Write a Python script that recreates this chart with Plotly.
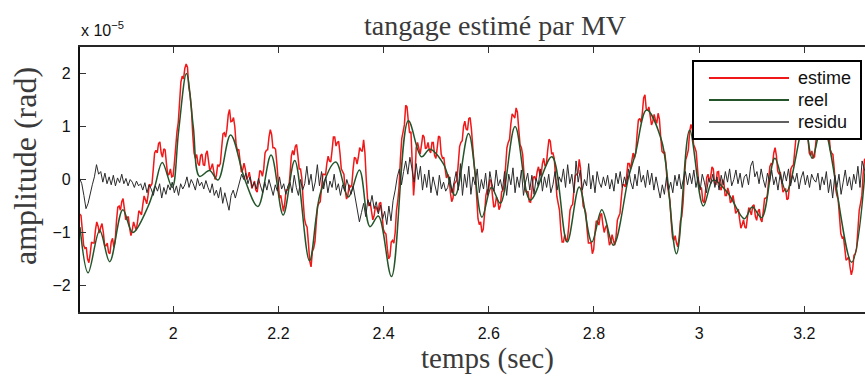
import numpy as np
import plotly.graph_objects as go

# ---------------- data (amplitude in units of 1e-5 rad) ----------------
# estime : sampled every 0.0025 s from t = 1.822 s (values in hundredths)
estime_start = 1.822
estime_step = 0.0025
estime_vals = [
    -65, -68, -95, -124, -130, -128, -150, -157, -140, -118, -120, -120, -95, -80, -88, -101, -90, -83, -100, -124,
    -125, -120, -138, -140, -118, -111, -128, -115, -78, -52, -50, -58, -42, -36, -55, -76, -72, -70, -92, -106,
    -95, -80, -88, -96, -80, -59, -62, -67, -48, -31, -38, -46, -30, -9, -12, -8, 20, 50, 55, 50,
    68, 71, 50, 42, 58, 56, 30, 8, 10, 20, 5, 6, 30, 72, 90, 108, 150, 184, 195, 190,
    210, 218, 212, 174, 160, 134, 85, 50, 40, 47, 30, 26, 45, 48, 28, 26, 48, 54, 35, 16,
    22, 30, 15, 0, 8, 28, 25, 30, 60, 86, 88, 80, 95, 122, 132, 109, 110, 117, 100, 66,
    55, 57, 35, 14, 18, 31, 20, 0, 5, 14, 0, -17, -10, -3, -20, -24, -5, 17, 15, 6,
    20, 50, 55, 56, 80, 94, 85, 60, 60, 57, 30, -14, -35, -30, -50, -60, -45, -20, -20, -17,
    10, 44, 55, 46, 62, 66, 45, 20, 20, 2, -40, -74, -85, -90, -120, -154, -165, -136, -130, -117,
    -80, -50, -45, -42, -15, 10, 10, 8, 30, 44, 35, 33, 55, 80, 80, 63, 70, 72, 50, 20,
    15, 10, -20, -37, -30, -10, -15, -10, 20, 42, 40, 29, 42, 60, 55, 53, 75, 50, 0, -37,
    -50, -43, -60, -76, -68, -50, -55, -62, -45, -43, -65, -94, -100, -103, -130, -150, -145, -118, -115, -120,
    -100, -58, -40, -12, 40, 77, 90, 103, 140, 137, 110, 88, 90, 42, -30, 3, 60, 70, 55, 48,
    65, 84, 80, 58, 60, 70, 55, 50, 70, 70, 45, 40, 60, 82, 80, 48, 40, 42, 20, 3,
    10, 4, -25, -42, -35, -8, -5, 0, 30, 62, 70, 73, 100, 110, 95, 93, 115, 117, 95, 50,
    30, 7, -40, -74, -85, -80, -100, -94, -65, -30, -20, -22, 0, -3, -30, -52, -50, -33, -40, -57,
    -50, -23, -20, -10, 25, 60, 70, 76, 105, 124, 120, 116, 135, 127, 95, 66, 60, 47, 10, -20,
    -25, -22, -42, -43, -20, 4, 5, -2, 15, 24, 10, 8, 30, 40, 25, 28, 55, 76, 72, 49,
    50, 40, 5, -32, -45, -58, -95, -118, -118, -104, -115, -114, -90, -58, -50, -47, -20, 7, 10, 12,
    38, 21, -20, -50, -55, -63, -95, -120, -120, -118, -140, -132, -100, -78, -80, -86, -68, -64, -85, -100,
    -90, -86, -105, -124, -118, -104, -115, -124, -108, -77, -70, -64, -35, -10, -10, -14, 5, 30, 30, 20,
    35, 50, 40, 50, 85, 112, 115, 108, 125, 154, 160, 133, 130, 137, 120, 103, 110, 123, 112, 106,
    125, 114, 80, 53, 50, 52, 30, -10, -25, -40, -80, -110, -115, -106, -120, -127, -110, -78, -70, -44,
    5, 37, 45, 56, 90, 104, 95, 66, 60, 52, 20, -10, -15, -16, -40, -44, -25, 4, 10, -4,
    5, 24, 20, -7, -10, 14, 15, -14, -20, 0, -5, -30, -30, -16, -25, -44, -40, -30, -45, -64,
    -60, -56, -75, -92, -85, -76, -90, -92, -70, -53, -60, -67, -50, -48, -70, -77, -60, -56, -75, -80,
    -60, -36, -35, -32, -5, 24, 30, 28, 50, 60, 45, 16, 10, 14, -5, -24, -20, -17, -38, -36,
    -10, 20, 25, 28, 55, 82, 85, 80, 100, 120, 115, 100, 110, 107, 80, 50, 45, 54, 40, 43,
    70, 94, 95, 90, 110, 127, 120, 98, 100, 104, 85, 56, 50, 47, 20, -17, -30, -38, -70, -102,
    -110, -108, -130, -152, -150, -146, -165, -180, -170, -143, -140, -130, -95, -58, -45, -30, 10, 37, 40, 33,
]

# reel : smooth signal, turning points (t [s], value)
reel_t = [1.8226, 1.838, 1.860, 1.879, 1.904, 1.923, 1.952, 1.965, 1.979, 1.998,
          2.010, 2.025, 2.038, 2.050, 2.069, 2.085, 2.109, 2.136, 2.161, 2.186,
          2.209, 2.231, 2.259, 2.280, 2.309, 2.333, 2.354, 2.374, 2.390, 2.415,
          2.447, 2.472, 2.488, 2.514, 2.536, 2.5616, 2.587, 2.605, 2.622, 2.650,
          2.679, 2.720, 2.749, 2.772, 2.796, 2.815, 2.837, 2.866, 2.879, 2.900,
          2.929, 2.957, 2.982, 3.008, 3.027, 3.055, 3.086, 3.101, 3.119, 3.144,
          3.166, 3.200, 3.215, 3.235, 3.290, 3.318]
reel_v = [-0.90, -1.76, -0.96, -1.55, -0.57, -1.00, -0.51, -0.13, 0.32, -0.15,
          0.90, 2.00, 1.00, 0.06, 0.17, -0.01, 0.84, 0.00, -0.51, 0.46,
          -0.67, 0.36, -1.53, -0.25, 0.33, -0.33, 0.18, -0.89, -0.69, -1.83,
          1.11, 0.43, 0.57, 0.29, -0.30, 0.87, -0.71, -0.15, -0.45, 1.00,
          -0.39, 0.43, -1.18, -0.14, -1.18, -0.57, -1.24, 0.05, 0.49, 1.31,
          0.72, -1.40, 0.93, -0.50, -0.01, -0.26, -0.74, -0.52, -0.72, 0.40,
          -0.23, 1.05, 0.40, 1.05, -1.56, 0.45]

# residu : sampled every 0.004 s from t = 1.822 s (values in hundredths)
residu_start = 1.822
residu_step = 0.004
residu_vals = [
    2, -8, -30, -55, -45, -25, -10, 5, 28, 10, 15, -5, 12, -8, 5, -10, 8, -12, 3, -6, 10, -8, 2, -12, 0,
    -5, -15, -3, -12, -8, -20, -6, -25, -10, -18, -30, -12, -22, -8, -35, -15, -28, -10, -20, -5, -25, -12, -30, -8, -18,
    -10, 5, -15, 0, -8, -20, 2, -12, -5, -18, -2, -15, -25, -8, -30, -20, -35, -15, -45, -25, -40, -58, -30, -20, -35,
    -20, -5, 10, 0, 12, -8, 5, -15, -5, -18, 2, -12, -25, -5, -20, 0, -15, -30, -10, -22, 5, -18, -8, -28, -12,
    -5, -25, 8, -15, -30, 0, -20, -8, 25, -10, 10, -22, -5, 28, -12, 15, -18, 5, -25, -3, -15, 10, -20, -8, -30,
    -10, -22, 0, -15, -28, -12, -35, -55, -80, -62, -45, -70, -38, -50, -30, -55, -42, -65, -48, -75, -60, -85, -50, -78, -40,
    -20, 5, 20, -10, 15, 35, 10, 42, 20, -5, 30, 0, 25, -20, 10, -15, 18, -25, 5, -10, -30, 8, -18, -5, -22,
    -15, 5, -25, -8, 15, -20, 30, -30, 10, -15, 25, -28, 5, -10, 20, -25, 0, -18, 12, -30, 15, -8, -22, 18, -12,
    0, -20, 15, -30, 10, -10, 22, -25, 5, -15, 18, -30, -5, 12, -20, 8, -28, 2, -12, 20, -22, 5, -15, 10, -25,
    -10, 15, -20, 5, -5, 20, -15, 28, -8, 10, -25, 35, -5, 18, -20, 0, -12, 30, -18, 8, -25, 15, -5, -15, 5,
    -12, 8, -18, 0, -22, 12, -8, 15, -15, 5, -10, 20, -5, -18, 10, -12, 25, -5, 8, -15, 18, -10, 12, -20, 5,
    -15, -35, -10, -28, 5, -20, -5, -25, 8, -12, 10, -18, 0, 15, -10, 12, -8, 18, -15, 5, -20, 10, -5, -25, 2,
    -8, 10, -15, 5, -20, 8, -10, 15, -5, 20, -12, 0, 18, -8, 12, -15, 5, 10, -10, 25, 35, 5, 15, -8, 20,
    0, -15, 12, -5, 18, -10, 5, -20, 10, -8, 15, -3, 20, -12, 8, -5, 12, -18, 3, 15, -10, 8, -15, 10, 0,
    -5, 12, -20, 5, -10, 15, -25, 0, -35, 8, -15, 10, -28, -5, 18, -12, 5, -20, 10, -8, 25, -15, 35, 20, 10,
]

x_ticks = [2.0, 2.2, 2.4, 2.6, 2.8, 3.0, 3.2]
x_tick_text = ["2", "2.2", "2.4", "2.6", "2.8", "3", "3.2"]
y_ticks = [-2, -1, 0, 1, 2]
y_tick_text = ["\u22122", "\u22121", "0", "1", "2"]

# ---------------- build ----------------
estime_y = np.array(estime_vals) / 100.0
estime_x = estime_start + estime_step * np.arange(len(estime_y))
residu_y = np.array(residu_vals) / 100.0
residu_x = residu_start + residu_step * np.arange(len(residu_y))

RED = "#f01818"
GREEN = "#24552a"
BLACK = "#2b2b2b"

fig = go.Figure()
fig.add_trace(go.Scatter(x=estime_x, y=estime_y, mode="lines", name="estime",
                         line=dict(color=RED, width=1.5)))
fig.add_trace(go.Scatter(x=reel_t, y=reel_v, mode="lines", name="reel",
                         line=dict(color=GREEN, width=1.5, shape="spline", smoothing=1.0)))
fig.add_trace(go.Scatter(x=residu_x, y=residu_y, mode="lines", name="residu",
                         line=dict(color=BLACK, width=1.0)))

# plot area on window pixels x 80..865, y 47..312 (page body margin removed)
L, R, T, B = 80, 865, 47, 312
W, H = R - L, B - T
FIG_W, FIG_H = 865, 379
def px(x):
    return (x - L) / W
def py(y):
    return (B - y) / H

serif = "Liberation Serif, Times New Roman, serif"
sans = "Liberation Sans, Arial, Helvetica, sans-serif"

shapes = [dict(type="rect", xref="paper", yref="paper",
               x0=px(693), x1=px(861), y0=py(139), y1=py(61),
               line=dict(color="black", width=2), fillcolor="white", layer="above")]
annotations = []
legend_items = [("estime", RED, 1.6, 78), ("reel", GREEN, 1.5, 100), ("residu", BLACK, 1.0, 122)]
for name, col, wdt, yy in legend_items:
    shapes.append(dict(type="line", xref="paper", yref="paper",
                       x0=px(709), x1=px(789), y0=py(yy), y1=py(yy),
                       line=dict(color=col, width=wdt + 0.4), layer="above"))
    annotations.append(dict(text=name, xref="paper", yref="paper", x=px(796), y=py(yy),
                            xanchor="left", yanchor="middle", showarrow=False,
                            font=dict(family=sans, size=18, color="#111")))

annotations += [
    dict(text="tangage estimé par MV", xref="paper", yref="paper", x=px(495), y=py(25),
         xanchor="center", yanchor="middle", showarrow=False,
         font=dict(family=serif, size=28, color="#3a3a3a")),
    dict(text="temps (sec)", xref="paper", yref="paper", x=px(487), y=py(358),
         xanchor="center", yanchor="middle", showarrow=False,
         font=dict(family=serif, size=29, color="#3a3a3a")),
    dict(text="amplitude (rad)", xref="paper", yref="paper", x=px(25), y=py(166),
         xanchor="center", yanchor="middle", showarrow=False, textangle=-90,
         font=dict(family=serif, size=32, color="#3a3a3a")),
    dict(text="x 10<sup>\u22125</sup>", xref="paper", yref="paper", x=px(79), y=py(29),
         xanchor="left", yanchor="middle", showarrow=False,
         font=dict(family=sans, size=16, color="#111")),
]

fig.update_layout(
    width=FIG_W, height=FIG_H,
    margin=dict(l=L, r=FIG_W - R, t=T, b=FIG_H - B, pad=0),
    paper_bgcolor="white", plot_bgcolor="white",
    showlegend=False,
    shapes=shapes, annotations=annotations,
    xaxis=dict(range=[1.8226, 3.3155], tickvals=x_ticks, ticktext=x_tick_text,
               ticks="inside", ticklen=6, tickwidth=1.2, tickcolor="#333",
               showline=True, linecolor="#262626", linewidth=1.6, mirror="ticks",
               showgrid=False, zeroline=False, ticklabelstandoff=6,
               tickfont=dict(family=sans, size=16, color="#111")),
    yaxis=dict(range=[-2.5, 2.5], tickvals=y_ticks, ticktext=y_tick_text,
               ticks="inside", ticklen=6, tickwidth=1.2, tickcolor="#333",
               showline=True, linecolor="#111", linewidth=2.2, mirror=False,
               showgrid=False, zeroline=False, ticklabelstandoff=4,
               tickfont=dict(family=sans, size=16, color="#111")),
)

# remove the default 8px page margin so the figure fills the 865x379 window exactly
fig.write_html("out.html",
               config={"displayModeBar": False},
               post_script="document.body.style.margin='0';document.body.style.overflow='hidden';")
